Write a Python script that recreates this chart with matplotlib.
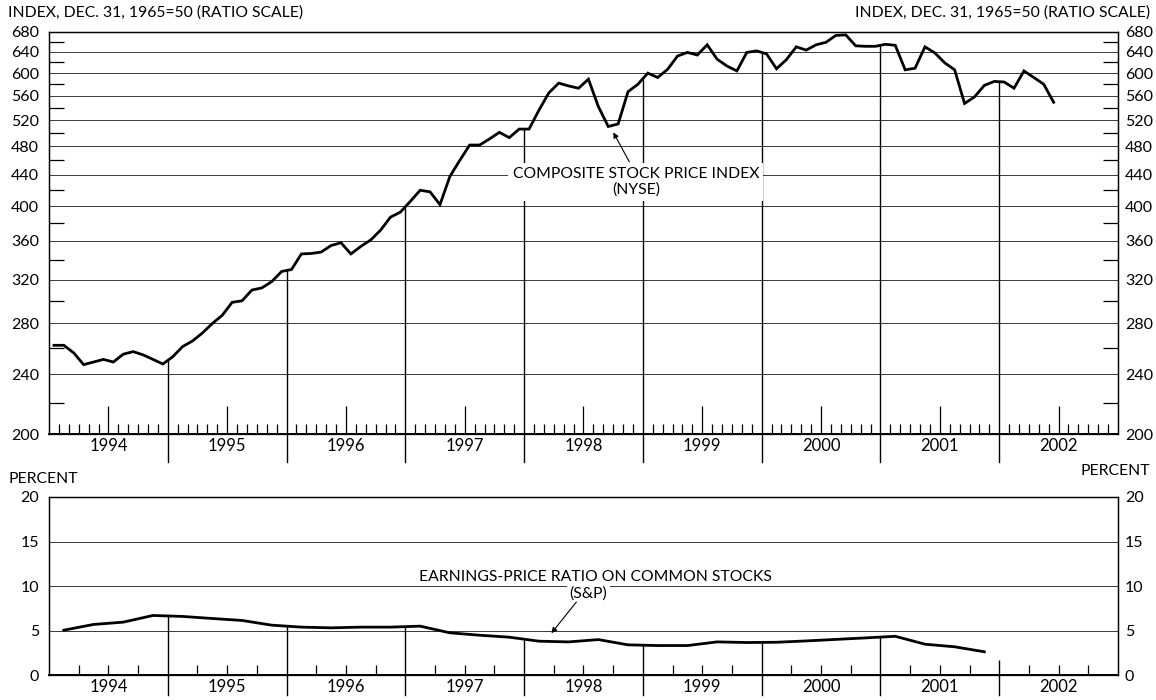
#!/usr/bin/env python3
"""Composite stock price index (NYSE, ratio scale) and S&P earnings-price ratio, 1994-2002."""

import numpy as np
import matplotlib
matplotlib.use('Agg')
import matplotlib.pyplot as plt
from matplotlib.ticker import FixedLocator, FixedFormatter, NullFormatter

plt.rcParams['font.family'] = ['Lato', 'DejaVu Sans']

# monthly composite index, Jan 1994 .. Jun 2002 (index, Dec. 31 1965 = 50)
nyse_1994 = [262, 262, 256, 247, 249, 251, 249, 255, 257, 254.5, 251, 247.5]
nyse_1995 = [253, 261, 265.5, 272, 280, 287, 298.6, 300, 310, 312, 318, 328]
nyse_1996 = [330, 346, 346.5, 348, 355, 358, 346, 354, 361, 372, 387, 393]
nyse_1997 = [406, 420, 418, 402, 438, 460, 482, 482, 491, 501, 493, 506]
nyse_1998 = [506, 536, 565, 582, 577, 573, 589, 542, 510, 514, 567, 580]
nyse_1999 = [600, 592, 607, 632, 639, 634, 654, 626, 613, 604, 639, 642]
nyse_2000 = [636, 608, 625, 650, 643.5, 654, 659, 673, 674, 652, 651, 651]
nyse_2001 = [655, 653, 606, 609, 650, 638, 619, 606, 547, 558, 578, 585]
nyse_2002 = [584, 573, 604, 592, 580, 549]
nyse = (nyse_1994 + nyse_1995 + nyse_1996 + nyse_1997 + nyse_1998
        + nyse_1999 + nyse_2000 + nyse_2001 + nyse_2002)

# quarterly earnings-price ratio (S&P), percent, 1994Q1 .. 2001Q4
ep_ratio = [5.04, 5.68, 5.94, 6.69,
            6.58, 6.35, 6.13, 5.60,
            5.38, 5.30, 5.38, 5.38,
            5.49, 4.74, 4.47, 4.25,
            3.80, 3.72, 3.98, 3.39,
            3.31, 3.31, 3.72, 3.65,
            3.68, 3.83, 4.00, 4.17,
            4.35, 3.46, 3.17, 2.61]

years = list(range(1994, 2003))
price_ticks = [200, 240, 280, 320, 360, 400, 440, 480, 520, 560, 600, 640, 680]
price_minor = [220, 260, 300, 340, 380, 420, 460, 500, 540, 580, 620, 660]
pct_ticks = [0, 5, 10, 15, 20]

INK = 'black'
GRID = '#383838'
TICK_FS = 11.5
YEAR_FS = 12
TEXT_FS = 11.3


def value_axis(ax, ticks, minor, scale):
    """Set y scale/ticks on ax and on a right-hand twin; returns the twin."""
    twin = ax.twinx()
    for a in (ax, twin):
        a.set_yscale(scale)
        a.set_ylim(ticks[0], ticks[-1])
        a.yaxis.set_major_locator(FixedLocator(ticks))
        a.yaxis.set_major_formatter(FixedFormatter([str(t) for t in ticks]))
        a.yaxis.set_minor_locator(FixedLocator(minor))
        a.yaxis.set_minor_formatter(NullFormatter())
        for s in a.spines.values():
            s.set_color(INK)
            s.set_linewidth(0.9)
    ax.tick_params(axis='y', which='major', length=0, labelsize=TICK_FS,
                   left=True, right=False, labelleft=True, labelright=False, pad=7)
    ax.tick_params(axis='y', which='minor', direction='in', length=11, width=0.9,
                   left=True, right=False, color=INK)
    twin.tick_params(axis='y', which='major', length=0, labelsize=TICK_FS,
                     left=False, right=True, labelleft=False, labelright=True, pad=5)
    twin.tick_params(axis='y', which='minor', direction='in', length=11, width=0.9,
                     left=False, right=True, color=INK)
    ax.grid(axis='y', which='major', color=GRID, lw=0.7)
    ax.set_axisbelow(True)
    return twin


def year_axis(ax, minor, major_len, labelpad):
    ax.set_xlim(years[0], years[-1] + 1)
    ax.set_xticks([y + 0.5 for y in years], [str(y) for y in years])
    ax.xaxis.set_minor_locator(FixedLocator(minor))
    ax.xaxis.set_minor_formatter(NullFormatter())
    ax.tick_params(axis='x', which='major', direction='in', length=major_len,
                   width=0.9, color=INK, pad=labelpad, labelsize=YEAR_FS)
    ax.tick_params(axis='x', which='minor', direction='in', length=7,
                   width=0.9, color=INK)
    ax.spines['bottom'].set_linewidth(1.4)


def year_lines(ax, xs, vals, ymin, below, stub):
    tr = ax.get_xaxis_transform()
    for yr in years[1:]:
        if yr <= xs[-1]:
            top = np.interp(yr, xs, vals)
        else:
            top = stub
        ax.vlines(yr, ymin, top, color=INK, lw=1.0, zorder=2)
        ax.plot([yr, yr], [0, -below], transform=tr, clip_on=False,
                color=INK, lw=1.0)


def main():
    fig = plt.figure(figsize=(11.56, 7.0), dpi=100)
    ax1 = fig.add_axes([0.0424, 0.38, 0.9247, 0.5743])
    ax2 = fig.add_axes([0.0424, 0.0357, 0.9247, 0.2543])

    x_month = years[0] + (np.arange(len(nyse)) + 0.5) / 12
    x_qtr = years[0] + (np.arange(len(ep_ratio)) + 0.5) / 4

    # ---- top panel: composite index, ratio scale
    value_axis(ax1, price_ticks, price_minor, 'log')
    month_minor = [y + m / 12 for y in years for m in range(1, 12) if m != 6]
    year_axis(ax1, month_minor, 20, 3)
    year_lines(ax1, x_month, nyse, price_ticks[0], 0.07, price_ticks[0])

    ax1.plot(x_month, nyse, color=INK, lw=2.0, zorder=5, solid_joinstyle='miter')

    ax1.annotate('', xy=(1998.751, 501), xytext=(1998.886, 458),
                 arrowprops=dict(arrowstyle='-|>', color=INK, lw=0.8,
                                 mutation_scale=8, shrinkA=0, shrinkB=0),
                 zorder=6)
    ax1.text(1998.94, 431, 'COMPOSITE STOCK PRICE INDEX\n(NYSE)', ha='center',
             va='center', fontsize=TEXT_FS, linespacing=1.15, zorder=4,
             bbox=dict(facecolor='white', edgecolor='none', pad=3))

    # ---- bottom panel: earnings-price ratio
    value_axis(ax2, pct_ticks, [], 'linear')
    qtr_minor = [y + q / 4 for y in years for q in (1, 3)]
    year_axis(ax2, qtr_minor, 7, 3)
    year_lines(ax2, x_qtr, ep_ratio, pct_ticks[0], 0.11, 1.7)

    ax2.plot(x_qtr, ep_ratio, color=INK, lw=2.0, zorder=5)

    ax2.annotate('', xy=(1998.23, 4.7), xytext=(1998.44, 8.2),
                 arrowprops=dict(arrowstyle='-|>', color=INK, lw=0.8,
                                 mutation_scale=8, shrinkA=0, shrinkB=0),
                 zorder=6)
    ax2.text(1998.6, 11.0, 'EARNINGS-PRICE RATIO ON COMMON STOCKS', ha='center',
             va='center', fontsize=TEXT_FS, zorder=4,
             bbox=dict(facecolor='white', edgecolor='none', pad=1))
    ax2.text(1998.54, 9.2, '(S&P)', ha='center', va='center', fontsize=TEXT_FS,
             zorder=4, bbox=dict(facecolor='white', edgecolor='none', pad=2))

    # ---- axis captions
    fig.text(8 / 1156, 1 - 13 / 700, 'INDEX, DEC. 31, 1965=50 (RATIO SCALE)',
             ha='left', va='center', fontsize=TEXT_FS)
    fig.text(1150 / 1156, 1 - 13 / 700, 'INDEX, DEC. 31, 1965=50 (RATIO SCALE)',
             ha='right', va='center', fontsize=TEXT_FS)
    fig.text(8 / 1156, 1 - 479 / 700, 'PERCENT', ha='left', va='center',
             fontsize=TEXT_FS)
    fig.text(1150 / 1156, 1 - 471 / 700, 'PERCENT', ha='right', va='center',
             fontsize=TEXT_FS)

    fig.savefig('out.png', dpi=100, facecolor='white')
    plt.close(fig)


if __name__ == '__main__':
    main()
